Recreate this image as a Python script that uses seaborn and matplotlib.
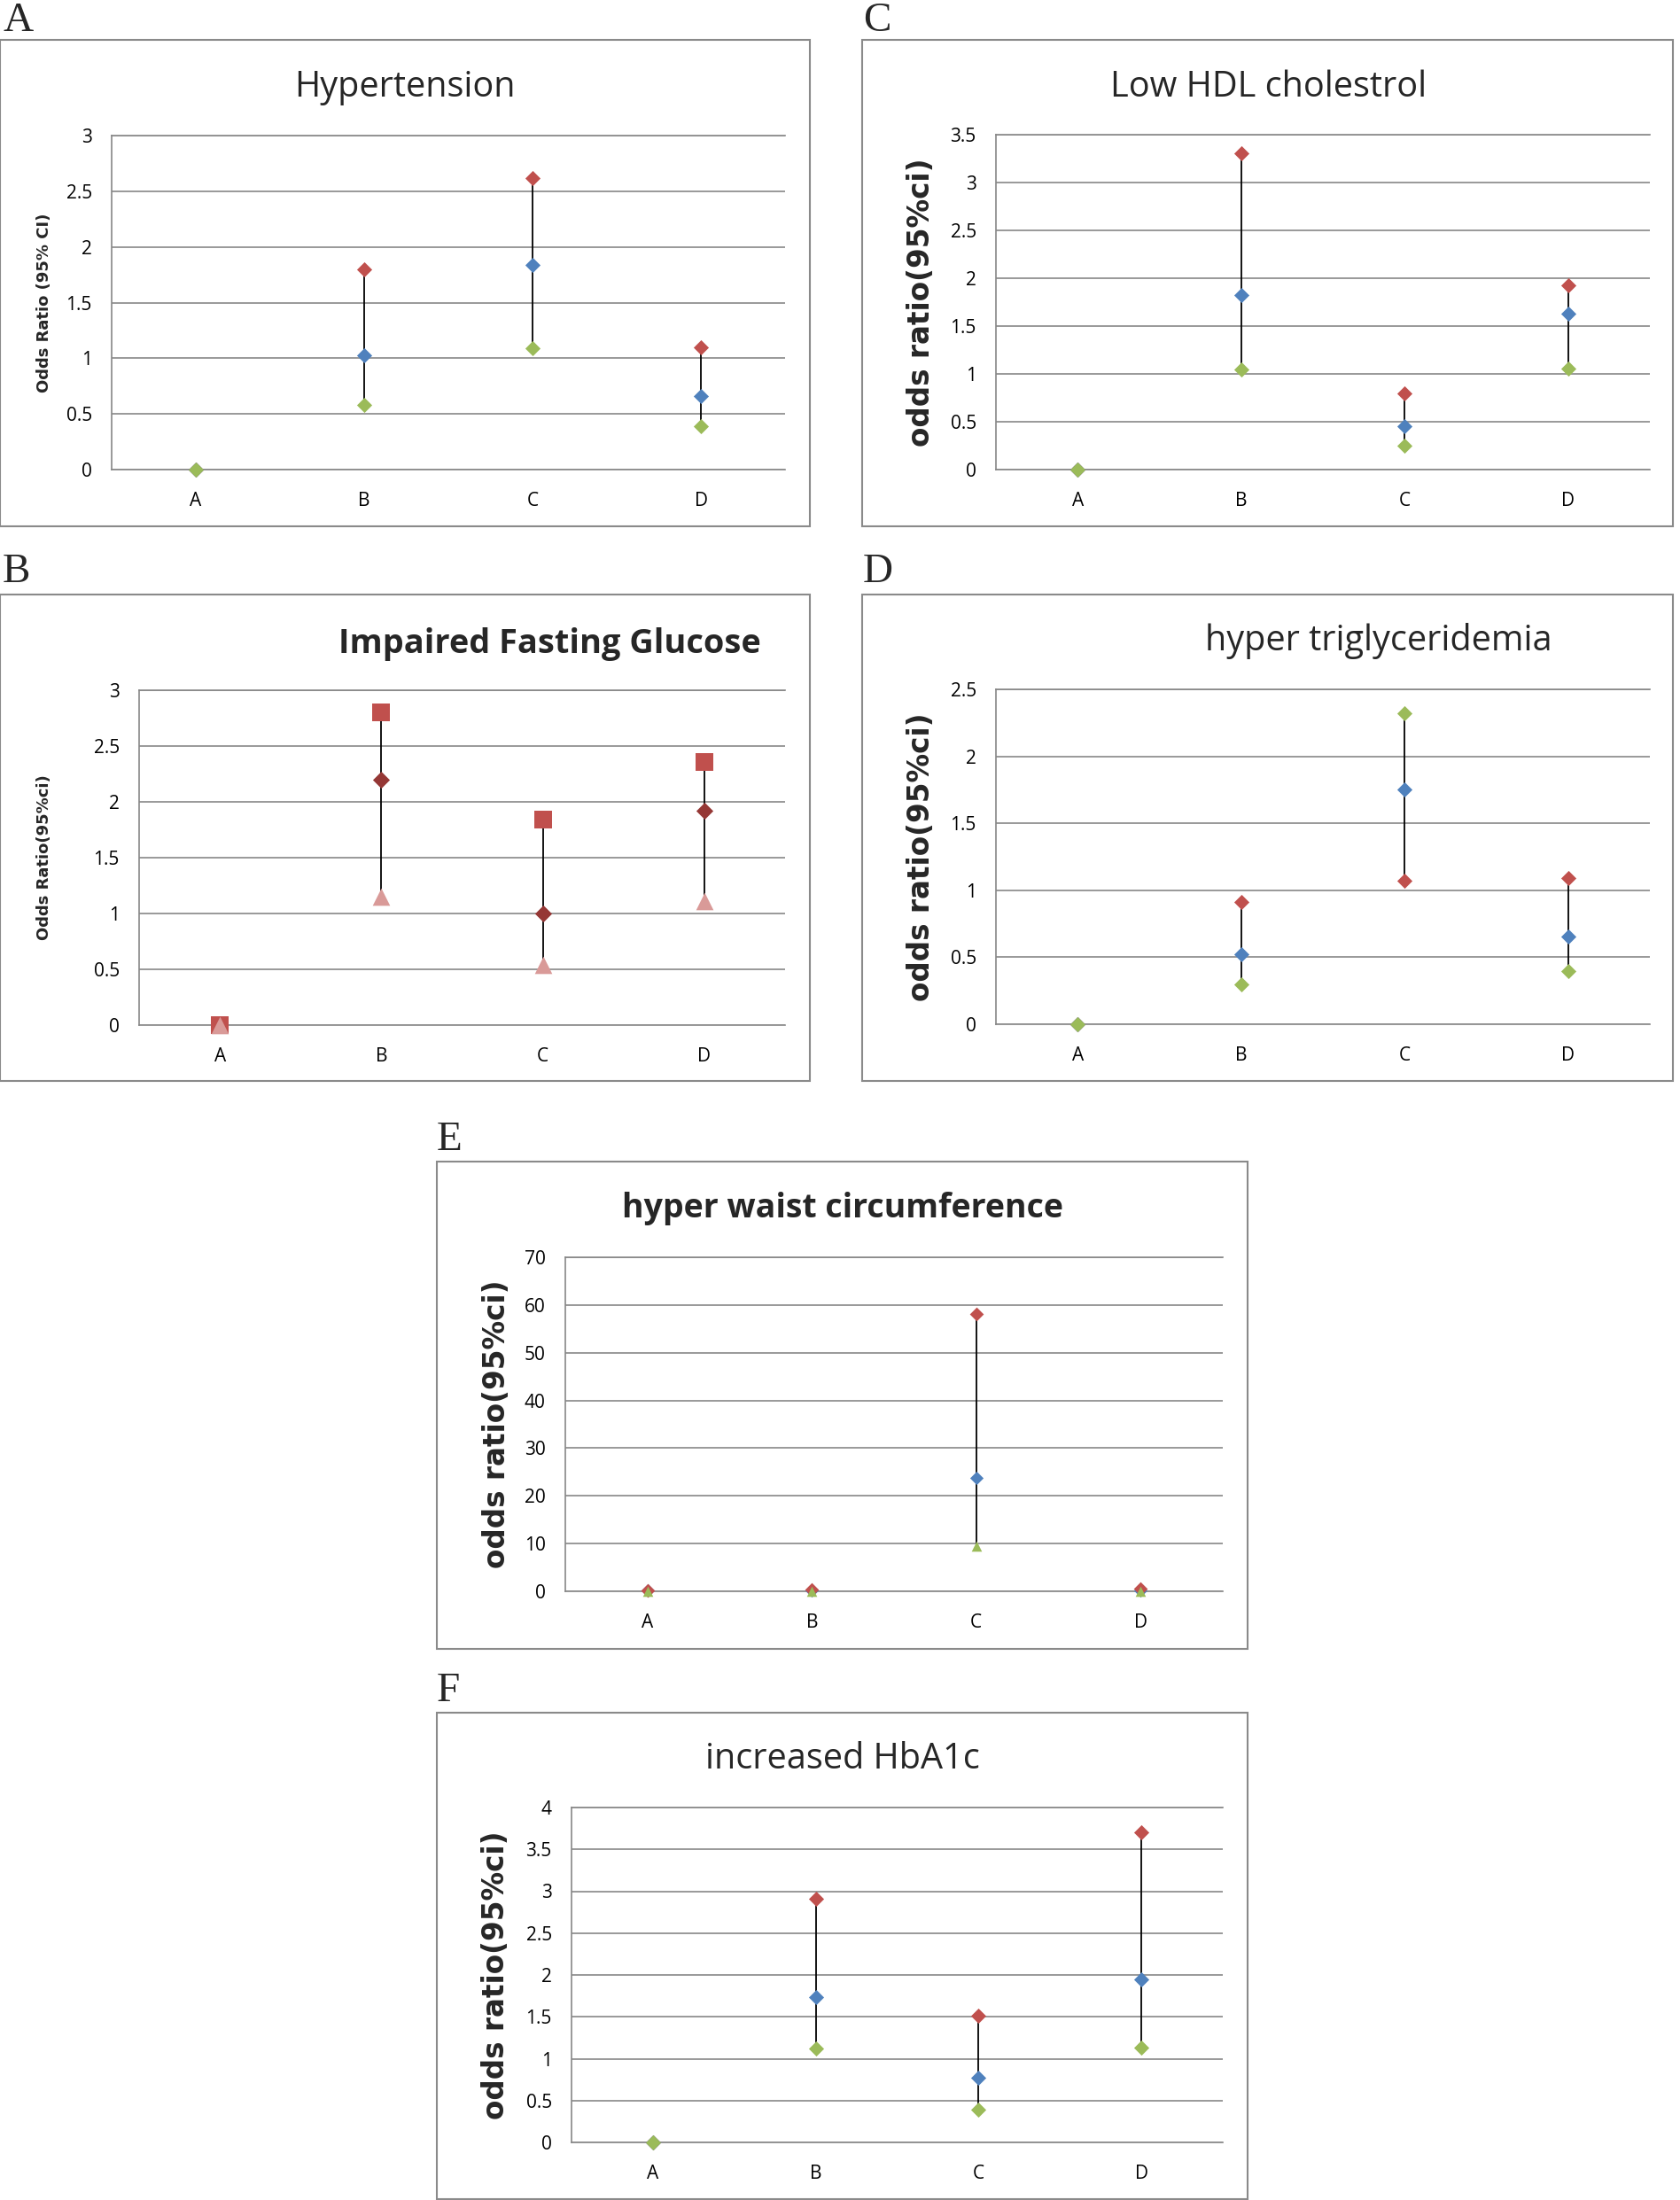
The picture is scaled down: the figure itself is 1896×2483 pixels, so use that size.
import numpy as np
import pandas as pd
import matplotlib
matplotlib.use("Agg")
import matplotlib.pyplot as plt
from matplotlib.patches import Rectangle
from matplotlib.ticker import FuncFormatter
import seaborn as sns

# ---------------- data ----------------
categories = ["A", "B", "C", "D"]

# A  Hypertension
hyp_red = [0.0, 1.80, 2.62, 1.10]
hyp_blue = [0.0, 1.03, 1.84, 0.66]
hyp_green = [0.0, 0.58, 1.09, 0.39]

# C  Low HDL cholestrol
hdl_red = [0.0, 3.31, 0.80, 1.93]
hdl_blue = [0.0, 1.82, 0.45, 1.63]
hdl_green = [0.0, 1.05, 0.25, 1.06]

# B  Impaired Fasting Glucose
ifg_square = [0.0, 2.80, 1.84, 2.36]
ifg_diamond = [0.0, 2.20, 1.00, 1.92]
ifg_triangle = [0.0, 1.15, 0.54, 1.11]

# D  hyper triglyceridemia
tg_red = [0.0, 0.915, 1.07, 1.09]
tg_blue = [0.0, 0.52, 1.75, 0.656]
tg_green = [0.0, 0.295, 2.32, 0.395]

# E  hyper waist circumference
wc_red = [0.25, 0.35, 58.1, 0.5]
wc_blue = [0.1, 0.15, 23.75, 0.2]
wc_green = [0.05, 0.05, 9.5, 0.05]

# F  increased HbA1c
hba_red = [0.0, 2.91, 1.51, 3.70]
hba_blue = [0.0, 1.74, 0.77, 1.95]
hba_green = [0.0, 1.12, 0.39, 1.13]

# ---------------- style ----------------
sns.set_style("white")
plt.rcParams["font.family"] = ["Open Sans", "DejaVu Sans"]

RED, BLUE, GREEN = "#C0504D", "#4F81BD", "#9BBB59"
DARKRED, PINK = "#953735", "#D99A98"
GRID = "#878787"

W, H = 1896, 2483
fig = plt.figure(figsize=(W / 100, H / 100), dpi=100)


def fx(x):
    return x / W


def fy(y):
    return 1 - y / H


panels = [
    dict(box=(0, 45, 914, 594), plot=(126, 153, 886, 530), ymax=3, step=0.5,
         ylabel="Odds Ratio (95% CI)", ylsize=13, ylx=-0.100,
         title="Hypertension", tbold=False, tx=457, ty=109, tsize=28.5,
         letter="A", lx=3, ly=35,
         series=[(hyp_red, RED, "D", 76), (hyp_blue, BLUE, "D", 76), (hyp_green, GREEN, "D", 76)]),
    dict(box=(973, 45, 1888, 594), plot=(1124, 152, 1862, 530), ymax=3.5, step=0.5,
         ylabel="odds ratio(95%ci)", ylsize=23.5, ylx=-0.114,
         title="Low HDL cholestrol", tbold=False, tx=1432, ty=109, tsize=28.5,
         letter="C", lx=974, ly=35,
         series=[(hdl_red, RED, "D", 76), (hdl_blue, BLUE, "D", 76), (hdl_green, GREEN, "D", 76)]),
    dict(box=(0, 671, 914, 1220), plot=(157, 779, 886, 1157), ymax=3, step=0.5,
         ylabel="Odds Ratio(95%ci)", ylsize=13, ylx=-0.147,
         title="Impaired Fasting Glucose", tbold=True, tx=620, ty=737, tsize=27.3,
         letter="B", lx=3, ly=657,
         series=[(ifg_diamond, DARKRED, "D", 95), (ifg_square, RED, "s", 190), (ifg_triangle, PINK, "^", 200)]),
    dict(box=(973, 671, 1888, 1220), plot=(1124, 778, 1862, 1156), ymax=2.5, step=0.5,
         ylabel="odds ratio(95%ci)", ylsize=23.5, ylx=-0.114,
         title="hyper triglyceridemia", tbold=False, tx=1556, ty=734, tsize=28.5,
         letter="D", lx=974, ly=657,
         series=[(tg_red, RED, "D", 76), (tg_blue, BLUE, "D", 76), (tg_green, GREEN, "D", 76)]),
    dict(box=(493, 1311, 1408, 1861), plot=(638, 1419, 1380, 1796), ymax=70, step=10,
         ylabel="odds ratio(95%ci)", ylsize=23.5, ylx=-0.105,
         title="hyper waist circumference", tbold=True, tx=951, ty=1374, tsize=27,
         letter="E", lx=493, ly=1298,
         series=[(wc_blue, BLUE, "D", 60), (wc_red, RED, "D", 64), (wc_green, GREEN, "^", 70)]),
    dict(box=(493, 1933, 1408, 2482), plot=(645, 2040, 1380, 2418), ymax=4, step=0.5,
         ylabel="odds ratio(95%ci)", ylsize=23.5, ylx=-0.117,
         title="increased HbA1c", tbold=False, tx=951, ty=1996, tsize=28.5,
         letter="F", lx=493, ly=1920,
         series=[(hba_red, RED, "D", 76), (hba_blue, BLUE, "D", 76), (hba_green, GREEN, "D", 76)]),
]

for p in panels:
    bl, bt, br, bb = p["box"]
    fig.add_artist(Rectangle((fx(bl), fy(bb)), fx(br - bl), (bb - bt) / H,
                             transform=fig.transFigure, fill=False,
                             edgecolor="#8a8a8a", linewidth=1.5))
    fig.text(fx(p["lx"]), fy(p["ly"]), p["letter"], family="Liberation Serif",
             fontsize=34, ha="left", va="baseline")
    fig.text(fx(p["tx"]), fy(p["ty"]), p["title"], fontsize=p["tsize"],
             fontweight="bold" if p["tbold"] else "normal", ha="center", va="baseline")

    l, t, r, b = p["plot"]
    ax = fig.add_axes([fx(l), fy(b), (r - l) / W, (b - t) / H])

    series_vals = []
    for z, (vals, color, marker, size) in enumerate(p["series"]):
        df = pd.DataFrame({"category": categories, "value": vals})
        sns.scatterplot(data=df, x="category", y="value", ax=ax, color=color,
                        marker=marker, s=size, linewidth=0, zorder=4 + z,
                        clip_on=False, legend=False)
        series_vals.append(vals)
    arr = np.array(series_vals, dtype=float)
    ax.vlines(np.arange(len(categories)), arr.min(axis=0), arr.max(axis=0),
              color="black", linewidth=1.3, zorder=3)

    ax.set_xlim(-0.5, len(categories) - 0.5)
    ax.set_ylim(0, p["ymax"])
    ax.set_yticks(np.arange(0, p["ymax"] + p["step"] / 2, p["step"]))
    ax.yaxis.set_major_formatter(FuncFormatter(lambda v, pos: f"{v:g}"))
    ax.grid(axis="y", color=GRID, linewidth=1.2)
    ax.grid(axis="x", visible=False)
    ax.set_axisbelow(True)
    for side in ("left", "bottom", "top"):
        ax.spines[side].set_visible(True)
        ax.spines[side].set_color(GRID)
        ax.spines[side].set_linewidth(1.2)
    ax.spines["right"].set_visible(False)
    ax.tick_params(axis="both", length=0, labelsize=15, labelcolor="black")
    ax.tick_params(axis="y", pad=16)
    ax.tick_params(axis="x", pad=18)
    ax.set_xlabel("")
    ax.set_ylabel(p["ylabel"], family="DejaVu Sans", fontweight="bold",
                  fontsize=p["ylsize"])
    ax.yaxis.set_label_coords(p["ylx"], 0.5)
    ax.yaxis.label.set_verticalalignment("center")
    ax.set_facecolor("none")

fig.savefig("out.png", dpi=100, facecolor="white")
